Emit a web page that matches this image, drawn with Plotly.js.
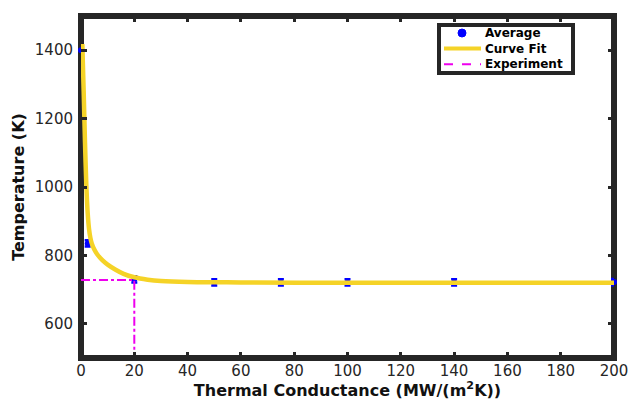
<!DOCTYPE html>
<html>
<head>
<meta charset="utf-8">
<script src="https://cdn.plot.ly/plotly-3.0.1.min.js"></script>
<style>html,body{margin:0;padding:0;background:#fff;}#chart{width:630px;height:400px;}</style>
</head>
<body>
<div id="chart"></div>
<script>
// Averages
var avgX = [0, 2.5, 20, 50, 75, 100, 140, 200];
var avgY = [1400, 835, 730, 721, 721, 721, 721, 722];
var avgErr = [9, 9, 9, 9, 9, 9, 9, 9];
// Curve fit
var fitX = [0.5, 1, 1.5, 2, 2.5, 3, 3.5, 4, 5, 6, 8, 10, 13, 16, 20, 25, 30, 40, 60, 100, 150, 200];
var fitY = [1418, 1280, 1130, 1005, 925, 878, 852, 836, 817, 804, 786, 773, 758, 746, 736, 729, 725, 722, 721, 720, 720, 720];
// Experiment
var expX = [0, 20, 20];
var expY = [728, 728, 500];
// Legend labels
var legendNames = ['Average', 'Curve Fit', 'Experiment'];

var dark = '#262626';
var fontFam = 'DejaVu Sans, sans-serif';

var traces = [
  {x: avgX, y: avgY, type: 'scatter', mode: 'markers', name: legendNames[0],
   marker: {color: '#0000ff', size: 6, symbol: 'circle'},
   error_y: {type: 'data', array: avgErr, visible: true, color: '#0000ff', thickness: 2.5, width: 3},
   cliponaxis: false, showlegend: false},
  {x: fitX, y: fitY, type: 'scatter', mode: 'lines', name: legendNames[1],
   line: {color: '#f5d327', width: 4.5, shape: 'spline', smoothing: 0.8}, cliponaxis: false, showlegend: false},
  {x: expX, y: expY, type: 'scatter', mode: 'lines', name: legendNames[2],
   line: {color: '#ee00ee', width: 2, dash: 'dashdot'}, showlegend: false}
];

// legend geometry (paper coords): plot area 81..614 x 16..358
function px2x(p) { return (p - 81) / 533; }
function px2y(p) { return (358 - p) / 342; }
var rowPx = [33, 48.6, 64.2];
var rowY = rowPx.map(px2y);

var shapes = [
  {type: 'rect', xref: 'paper', yref: 'paper', x0: 0, x1: 1, y0: 0, y1: 1,
   line: {color: dark, width: 6}, layer: 'below'},
  {type: 'rect', xref: 'paper', yref: 'paper', x0: px2x(439), x1: px2x(573), y0: px2y(73), y1: px2y(25),
   line: {color: dark, width: 4}, fillcolor: '#fff', layer: 'above'},
  {type: 'circle', xref: 'paper', yref: 'paper', xsizemode: 'pixel', ysizemode: 'pixel',
   xanchor: px2x(462), yanchor: rowY[0], x0: -4, x1: 4, y0: -4, y1: 4,
   fillcolor: '#0000ff', line: {color: '#0000ff', width: 1}, layer: 'above'},
  {type: 'line', xref: 'paper', yref: 'paper', x0: px2x(444), x1: px2x(481), y0: rowY[1], y1: rowY[1],
   line: {color: '#f5d327', width: 4}, layer: 'above'},
  {type: 'line', xref: 'paper', yref: 'paper', x0: px2x(444), x1: px2x(481), y0: rowY[2], y1: rowY[2],
   line: {color: '#ee00ee', width: 2, dash: 'dash'}, layer: 'above'}
];

var annotations = [{
  xref: 'paper', yref: 'paper', x: px2x(484), y: rowY[1], xanchor: 'left', yanchor: 'middle',
  align: 'left', showarrow: false, borderpad: 0,
  text: legendNames.map(function (n) { return '<b>' + n + '</b>'; }).join('<br>'),
  font: {family: fontFam, size: 12, color: '#000'}
}];

var layout = {
  width: 630, height: 400,
  margin: {l: 81, r: 16, t: 16, b: 42},
  paper_bgcolor: '#fff', plot_bgcolor: '#fff',
  font: {family: fontFam, color: dark, size: 13},
  showlegend: false,
  shapes: shapes,
  annotations: annotations,
  xaxis: {range: [0, 200], tickvals: [0,20,40,60,80,100,120,140,160,180,200],
          showgrid: false, zeroline: false, showline: false,
          mirror: 'ticks', ticks: 'inside', ticklen: 6, tickwidth: 3, tickcolor: dark,
          tickfont: {family: fontFam, size: 15, color: dark}, ticklabelstandoff: 2,
          title: {text: 'Thermal Conductance (MW/(m<sup>2</sup>K))', standoff: 3,
                  font: {family: fontFam, size: 16, color: '#111', weight: 'bold'}}},
  yaxis: {range: [500, 1500], tickvals: [600, 800, 1000, 1200, 1400],
          showgrid: false, zeroline: false, showline: false,
          mirror: 'ticks', ticks: 'inside', ticklen: 6, tickwidth: 3, tickcolor: dark,
          tickfont: {family: fontFam, size: 15, color: dark}, ticklabelstandoff: 7,
          title: {text: 'Temperature (K)', standoff: 6,
                  font: {family: fontFam, size: 16, color: '#111', weight: 'bold'}}}
};

Plotly.newPlot('chart', traces, layout, {displayModeBar: false, staticPlot: true});
</script>
</body>
</html>
